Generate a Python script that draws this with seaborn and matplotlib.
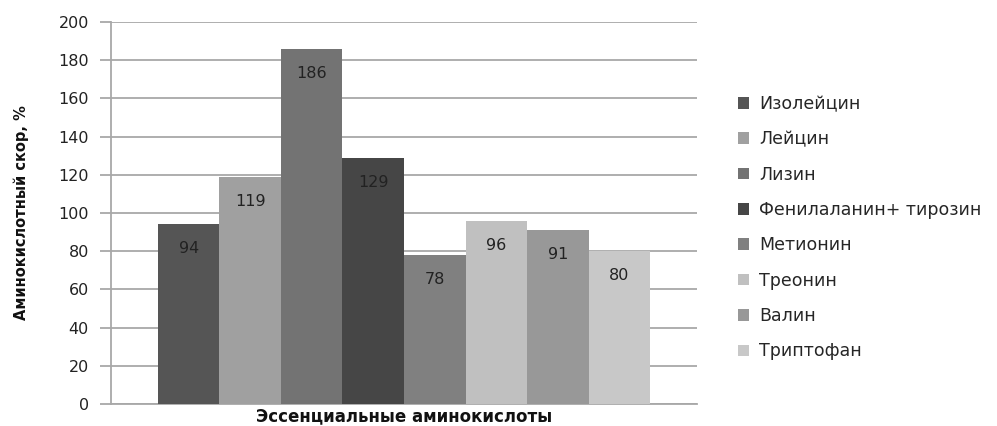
import matplotlib
matplotlib.use("Agg")
import matplotlib.pyplot as plt
import seaborn as sns
import pandas as pd

acids = ["Изолейцин", "Лейцин", "Лизин", "Фенилаланин+ тирозин",
         "Метионин", "Треонин", "Валин", "Триптофан"]
scores = [94, 119, 186, 129, 78, 96, 91, 80]
colors = ["#555555", "#a0a0a0", "#737373", "#464646",
          "#808080", "#c0c0c0", "#989898", "#c8c8c8"]
yticks = [0, 20, 40, 60, 80, 100, 120, 140, 160, 180, 200]
group = "Эссенциальные аминокислоты"

df = pd.DataFrame({"group": [group] * len(acids), "acid": acids, "score": scores})

sns.set_theme(style="white")
plt.rcParams["font.family"] = ["DejaVu Sans"]

fig = plt.figure(figsize=(9.97, 4.26), dpi=100)
ax = fig.add_axes([111 / 997, 22 / 426, 586 / 997, 382 / 426])

sns.barplot(data=df, x="group", y="score", hue="acid", hue_order=acids,
            palette=colors, width=0.84, saturation=1, ax=ax, zorder=3,
            legend=True, linewidth=0, edgecolor="none")

for cont in ax.containers:
    ax.bar_label(cont, padding=-23, fontsize=11.5, color="#222222")

ax.set_xlim(-0.5, 0.5)
ax.set_ylim(0, 200)
ax.set_yticks(yticks)
ax.set_yticklabels([str(t) for t in yticks], fontsize=11.5, color="#222222")
ax.set_xticks([])
ax.yaxis.grid(True, color="#a8a8a8", linewidth=1.3, zorder=0)
ax.set_axisbelow(True)
ax.tick_params(axis="y", length=8, width=1.3, color="#a8a8a8", pad=8, left=True)
for s in ["top", "right"]:
    ax.spines[s].set_visible(False)
ax.spines["left"].set_color("#a8a8a8")
ax.spines["left"].set_linewidth(1.3)
ax.spines["bottom"].set_color("#a8a8a8")
ax.spines["bottom"].set_linewidth(1.3)

ax.set_xlabel(group, fontsize=12, fontweight="bold", color="#111111")
ax.xaxis.set_label_coords(0.5, -3 / 382)
ax.set_ylabel("Аминокислотный скор, %", fontsize=10.5, fontweight="bold",
              color="#111111")
ax.yaxis.set_label_coords(-82 / 586, 0.5)

ax.legend(loc="upper left", bbox_to_anchor=(731 / 997, 1 - 88 / 426),
          bbox_transform=fig.transFigure, frameon=False, fontsize=12.5,
          handlelength=0.65, handleheight=0.65, handletextpad=0.55,
          labelspacing=1.0, borderaxespad=0)

fig.savefig("out.png", dpi=100, facecolor="white")
